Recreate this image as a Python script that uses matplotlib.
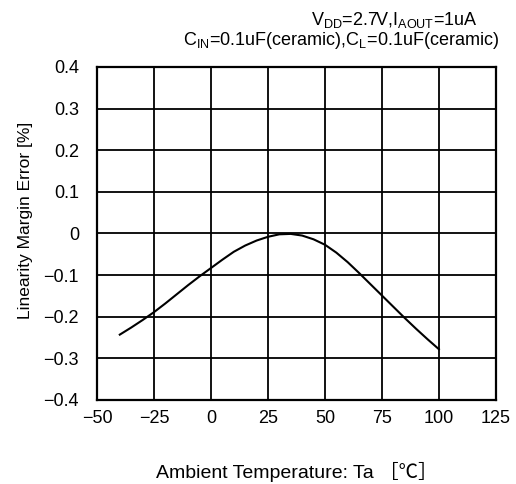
import matplotlib
matplotlib.use('Agg')
import matplotlib.pyplot as plt
from matplotlib.ticker import FuncFormatter

plt.rcParams['font.family'] = ['Liberation Sans', 'Noto Sans CJK JP', 'DejaVu Sans']
plt.rcParams['mathtext.fontset'] = 'custom'
plt.rcParams['mathtext.rm'] = 'Liberation Sans'

# Ambient temperature [degC] and linearity margin error [%]
temperature = [-40, -35, -30, -25, -20, -15, -10, -5, 0, 5, 10, 15, 20, 25, 30,
               35, 40, 45, 50, 55, 60, 65, 70, 75, 80, 85, 90, 95, 100]
error = [-0.243, -0.226, -0.208, -0.189, -0.168, -0.146, -0.124, -0.103, -0.083,
         -0.063, -0.044, -0.029, -0.017, -0.008, -0.002, -0.001, -0.005, -0.014,
         -0.027, -0.046, -0.069, -0.095, -0.122, -0.149, -0.176, -0.203, -0.229,
         -0.254, -0.278]

x_ticks = [-50, -25, 0, 25, 50, 75, 100, 125]
y_ticks = [-0.4, -0.3, -0.2, -0.1, 0, 0.1, 0.2, 0.3, 0.4]


def fmt_y(v, pos):
    if abs(v) < 1e-9:
        return '0'
    return f'{v:.1f}'.replace('-', '\u2212')


def fmt_x(v, pos):
    return f'{v:.0f}'.replace('-', '\u2212')


fig = plt.figure(figsize=(5.16, 4.84), dpi=100)
ax = fig.add_axes([0.188, 0.1736, 0.773, 0.688])

ax.plot(temperature, error, color='black', linewidth=1.5)

ax.set_xlim(-50, 125)
ax.set_ylim(-0.4, 0.4)
ax.set_xticks(x_ticks)
ax.set_yticks(y_ticks)
ax.xaxis.set_major_formatter(FuncFormatter(fmt_x))
ax.yaxis.set_major_formatter(FuncFormatter(fmt_y))
ax.tick_params(length=0, labelsize=13, colors='black')
ax.tick_params(axis='y', pad=13)
ax.tick_params(axis='x', pad=7)
ax.grid(True, color='black', linewidth=1.3)
for s in ax.spines.values():
    s.set_linewidth(1.6)

ax.set_xlabel('Ambient Temperature: Ta \uff3b\u2103\uff3d', fontsize=14)
ax.xaxis.set_label_coords(0.5, -0.187)
ax.set_ylabel('Linearity Margin Error [%]', fontsize=12.5)
ax.yaxis.set_label_coords(-0.16, 0.54)

fig.text(0.925, 0.958, r'V$_{\rm DD}$=2.7V,I$_{\rm AOUT}$=1uA',
         ha='right', va='center', fontsize=13)
fig.text(0.966, 0.916, r'C$_{\rm IN}$=0.1uF(ceramic),C$_{\rm L}$=0.1uF(ceramic)',
         ha='right', va='center', fontsize=13)

fig.savefig('out.png', dpi=100)
